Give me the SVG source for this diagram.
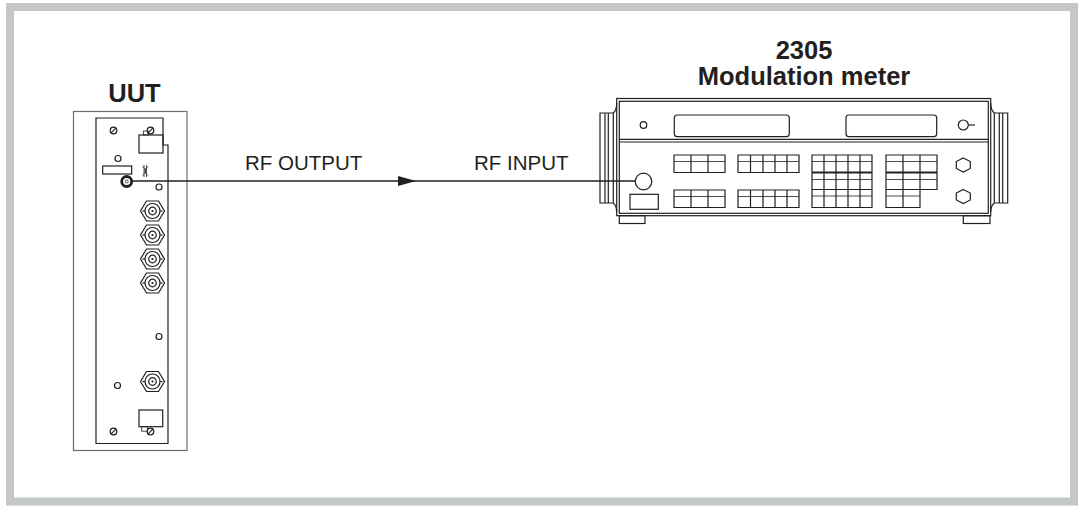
<svg xmlns="http://www.w3.org/2000/svg" width="1079" height="508" viewBox="0 0 1079 508">
<defs>
<style>
.ln{fill:none;stroke:#231f20;stroke-width:1.2}
.th{fill:none;stroke:#231f20;stroke-width:0.8}
.gr{fill:none;stroke:#6d6e70;stroke-width:1.2}
.t{font-family:"Liberation Sans",Arial,sans-serif;fill:#231f20}
.b{font-weight:bold;font-size:25.5px}
.r{font-size:20.5px}
</style>
<marker id="ah" markerWidth="18" markerHeight="10" refX="18" refY="5" orient="auto" markerUnits="userSpaceOnUse">
<path d="M0,0 L18,5 L0,10 Z" fill="#231f20"/>
</marker>
<g id="screw"><circle r="3.3" class="ln"/><line x1="-2.3" y1="2.3" x2="2.3" y2="-2.3" class="ln"/></g>
<g id="bnc">
<path d="M-12,0 L-6,-10 L6,-10 L12,0 L6,10 L-6,10 Z" class="ln"/>
<circle r="7.5" class="ln"/>
<circle r="3.8" class="ln"/>
<circle r="1.1" fill="#231f20"/>
<line x1="-7.5" y1="0" x2="-10" y2="0" class="ln"/>
<line x1="7.5" y1="0" x2="10" y2="0" class="ln"/>
</g>
<path id="hex" d="M0,-7 L7,-3.5 L7,3.5 L0,7 L-7,3.5 L-7,-3.5 Z" class="ln"/>
</defs>
<rect x="0" y="0" width="1079" height="508" fill="#fff"/>
<rect x="10" y="7" width="1064" height="494.5" fill="none" stroke="#c3c7c7" stroke-width="8"/>

<g id="uut">
<text class="t b" x="134.5" y="102" text-anchor="middle">UUT</text>
<rect x="73.5" y="111.5" width="113.5" height="339" class="gr"/>
<path d="M96,118 H163 V145 H168 V443.5 H96 Z" class="ln"/>
<rect x="139" y="135" width="24" height="18" class="ln"/>
<rect x="143.3" y="131" width="5" height="4" class="th"/>
<use href="#screw" x="113.5" y="130.5"/>
<use href="#screw" x="150.5" y="130.5"/>
<circle cx="118" cy="158.5" r="3" class="ln"/>
<rect x="102.7" y="166" width="29" height="8" class="ln"/>
<path d="M144,165 V177 M146.5,165 V177 M148,166.5 Q142,171 148,175.5 M142.5,166.5 Q148.5,171 142.5,175.5" class="th"/>
<circle cx="126.7" cy="181.5" r="5" fill="none" stroke="#231f20" stroke-width="2.8"/>
<circle cx="126.7" cy="181.5" r="1.5" class="th"/>
<circle cx="159" cy="187" r="3" class="ln"/>
<use href="#bnc" x="152.5" y="211"/>
<use href="#bnc" x="152.5" y="235"/>
<use href="#bnc" x="152.5" y="259"/>
<use href="#bnc" x="152.5" y="283"/>
<circle cx="159" cy="336.5" r="3" class="ln"/>
<use href="#bnc" x="152.5" y="381.5"/>
<circle cx="117.5" cy="385.5" r="3" class="ln"/>
<rect x="139" y="410" width="23.7" height="16.7" class="ln"/>
<rect x="141.7" y="426.7" width="5.6" height="4.5" class="th"/>
<use href="#screw" x="113.5" y="431.5"/>
<use href="#screw" x="150.5" y="431.5"/>
</g>

<g id="meter">
<text class="t b" x="804" y="59" text-anchor="middle">2305</text>
<text class="t b" x="804" y="84.5" text-anchor="middle">Modulation meter</text>
<rect x="616.7" y="98.5" width="374" height="117.2" class="ln"/>
<rect x="619.3" y="101.3" width="369" height="112" class="ln"/>
<line x1="619.3" y1="139.3" x2="988.3" y2="139.3" class="ln"/>
<line x1="619.3" y1="142" x2="988.3" y2="142" class="ln"/>
<path d="M600,113 H613.3 V203 H600 Z M605,113 V203 M608.3,113 V203 M613.3,113 Q616.7,110 616.7,103 M613.3,203 Q616.7,206 616.7,212" class="ln"/>
<path d="M994.3,113 H1007.7 V203 H994.3 Z M1002.7,113 V203 M999.3,113 V203 M994.3,113 Q990.7,110 990.7,103 M994.3,203 Q990.7,206 990.7,212" class="ln"/>
<rect x="619.3" y="215.7" width="25.7" height="7.8" class="ln"/>
<rect x="963.3" y="215.7" width="26.7" height="7.8" class="ln"/>
<circle cx="643.5" cy="125" r="3.3" class="ln"/>
<rect x="674.3" y="115" width="115" height="21.7" rx="3" class="ln"/>
<rect x="846" y="115" width="90.7" height="21.7" rx="3" class="ln"/>
<circle cx="963.3" cy="125" r="5" class="ln"/>
<line x1="968.3" y1="125" x2="975" y2="125" class="ln"/>
<circle cx="643.5" cy="181.5" r="8.3" class="ln"/>
<rect x="630" y="194.3" width="28.3" height="15" class="ln"/>
<path d="M674,155 H725 V172.5 H674 Z M691,155 V172.5 M708,155 V172.5" class="ln"/>
<path d="M674,190 H725 V207.5 H674 Z M691,190 V207.5 M708,190 V207.5" class="ln"/>
<path d="M738,155 H799 V172.5 H738 Z M750.5,155 V172.5 M763,155 V172.5 M775,155 V172.5 M787,155 V172.5" class="ln"/>
<path d="M738,190 H799 V207.5 H738 Z M750.5,190 V207.5 M763,190 V207.5 M775,190 V207.5 M787,190 V207.5" class="ln"/>
<path d="M674,161.5 H725 M674,196.5 H725 M738,161.5 H799 M738,196.5 H799" class="th"/>
<path d="M812,155 H872 V207.5 H812 Z M824,155 V207.5 M836,155 V207.5 M848,155 V207.5 M860,155 V207.5 M812,189.5 H872" class="ln"/>
<line x1="812" y1="172.5" x2="872" y2="172.5" stroke="#231f20" stroke-width="2.2"/>
<path d="M812,161.5 H872 M812,179.5 H872 M812,196 H872" class="th"/>
<path d="M886,155 H937 V189.5 H920 V207.5 H886 Z M903,155 V207.5 M920,155 V189.5 M886,189.5 H920" class="ln"/>
<line x1="886" y1="172.5" x2="937" y2="172.5" stroke="#231f20" stroke-width="2.2"/>
<path d="M886,161.5 H937 M886,179.5 H937 M886,196 H920" class="th"/>
<use href="#hex" x="963.3" y="165"/>
<use href="#hex" x="963.3" y="196.5"/>
</g>

<g id="connectors">
<line x1="132" y1="181" x2="416" y2="181" stroke="#231f20" stroke-width="1.3" marker-end="url(#ah)"/>
<line x1="416" y1="181" x2="635.2" y2="181" stroke="#231f20" stroke-width="1.3"/>
<text class="t r" x="245" y="170">RF OUTPUT</text>
<text class="t r" x="474" y="170">RF INPUT</text>
</g>
</svg>
